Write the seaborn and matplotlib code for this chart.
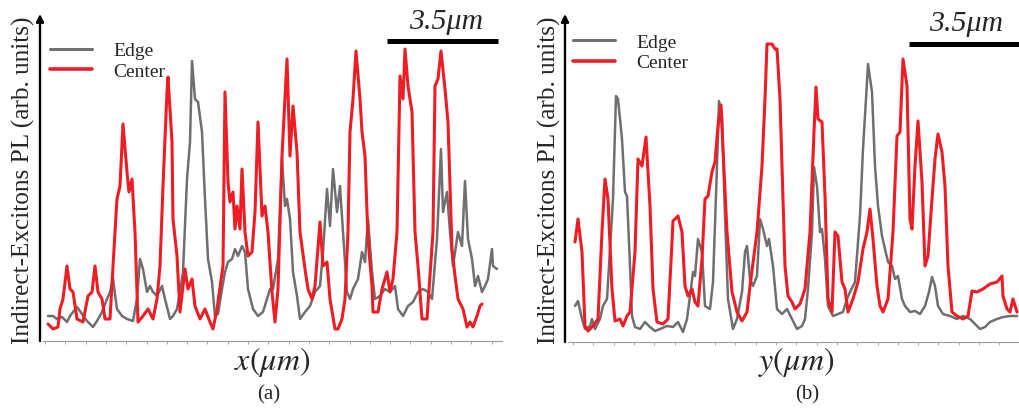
import numpy as np
import pandas as pd
import matplotlib
matplotlib.use("Agg")
import matplotlib.pyplot as plt
import seaborn as sns

# ---------------- data (profile position in camera pixels, PL in counts) -------------
# panel (a): profile along x
edge_a_pos = [8, 13, 17, 22, 27, 30, 33, 37, 42, 47, 53, 57, 62, 67, 70, 73, 77, 82, 87, 93,
              97, 100, 103, 107, 110, 113, 117, 122, 125, 130, 133, 137, 140, 143, 147, 150, 152, 155, 158, 162,
              165, 168, 172, 175, 178, 182, 185, 188, 192, 195, 198, 202, 205, 208, 213, 218, 223, 227, 230, 233,
              238, 242, 245, 247, 250, 253, 257, 260, 265, 270, 275, 280, 283, 287, 290, 293, 297, 300, 303, 307,
              310, 313, 318, 322, 325, 328, 332, 335, 340, 345, 350, 355, 358, 363, 368, 373, 378, 383, 388, 392,
              397, 401, 403, 407, 410, 413, 418, 422, 425, 428, 432, 435, 438, 442, 445, 448, 452, 453, 457]
edge_a_pl = [25, 25, 22, 24, 19, 25, 29, 34, 27, 20, 14, 20, 29, 42, 49, 62, 32, 25, 22, 20,
             42, 82, 72, 49, 55, 49, 45, 55, 42, 22, 25, 32, 49, 69, 162, 199, 280, 242, 239, 209,
             142, 82, 59, 25, 27, 52, 69, 79, 82, 92, 85, 95, 89, 52, 32, 25, 29, 42, 52, 52,
             82, 182, 135, 142, 122, 69, 45, 22, 29, 35, 49, 55, 89, 152, 115, 172, 129, 155, 109, 49,
             42, 52, 62, 89, 79, 122, 69, 42, 45, 52, 49, 55, 32, 25, 35, 39, 49, 52, 49, 42,
             102, 192, 129, 149, 109, 75, 109, 95, 160, 102, 82, 55, 65, 49, 55, 62, 92, 75, 72]

center_a_pos = [8, 13, 18, 20, 23, 27, 30, 33, 37, 43, 48, 52, 55, 58, 62, 65, 70, 75, 77, 80,
                83, 87, 89, 92, 95, 98, 103, 108, 113, 117, 120, 123, 127, 128, 132, 133, 137, 140, 145, 148,
                152, 155, 160, 165, 170, 173, 177, 183, 185, 188, 190, 193, 195, 197, 200, 202, 205, 208, 212, 215,
                218, 222, 225, 228, 232, 235, 238, 242, 247, 250, 253, 257, 260, 265, 268, 272, 275, 280, 283, 287,
                290, 295, 298, 302, 305, 308, 310, 313, 316, 320, 322, 325, 328, 332, 333, 338, 342, 347, 350, 353,
                357, 360, 363, 365, 368, 372, 375, 378, 382, 387, 393, 395, 398, 401, 405, 408, 412, 415, 418, 423,
                427, 430, 433, 437, 440, 442]
center_a_pl = [17, 12, 14, 32, 42, 75, 52, 49, 22, 19, 45, 49, 75, 49, 42, 22, 22, 109, 142, 155,
               217, 169, 149, 162, 109, 19, 25, 32, 22, 42, 75, 155, 249, 264, 199, 122, 85, 29, 72, 52,
               62, 35, 22, 32, 19, 12, 32, 75, 249, 159, 139, 149, 112, 135, 112, 172, 109, 85, 89, 129,
               219, 125, 135, 109, 49, 19, 52, 185, 282, 185, 235, 189, 109, 72, 52, 42, 55, 119, 75, 79,
               42, 12, 12, 22, 42, 109, 209, 242, 290, 242, 209, 185, 102, 55, 29, 29, 52, 69, 49, 62,
               109, 265, 242, 292, 255, 229, 109, 75, 22, 22, 109, 255, 262, 290, 252, 219, 92, 65, 42, 32,
               14, 19, 14, 25, 35, 37]

# panel (b): profile along y
edge_b_pos = [10, 13, 17, 20, 25, 27, 30, 35, 38, 42, 45, 48, 51, 53, 57, 60, 62, 65, 67, 70,
              75, 80, 85, 90, 95, 102, 108, 113, 118, 122, 125, 128, 130, 133, 137, 140, 145, 148, 152, 154,
              157, 160, 163, 168, 172, 177, 180, 182, 185, 188, 192, 195, 198, 202, 204, 208, 212, 217, 222, 227,
              232, 237, 240, 243, 247, 249, 252, 255, 257, 260, 263, 268, 273, 278, 282, 285, 290, 295, 298, 301,
              303, 307, 310, 313, 317, 320, 323, 327, 330, 333, 337, 340, 345, 350, 355, 360, 364, 367, 370, 373,
              378, 385, 392, 398, 405, 410, 415, 420, 425, 432, 438, 445, 452]
edge_b_pl = [36, 41, 23, 13, 16, 23, 13, 23, 36, 43, 93, 143, 246, 243, 203, 150, 146, 76, 26, 15,
             13, 20, 15, 11, 13, 16, 15, 20, 10, 23, 46, 70, 66, 103, 90, 36, 33, 60, 176, 241,
             226, 126, 43, 13, 23, 50, 90, 96, 63, 56, 66, 123, 113, 96, 103, 76, 33, 28, 33, 23,
             13, 16, 23, 53, 110, 175, 156, 110, 113, 83, 36, 26, 28, 30, 43, 50, 60, 126, 193, 243,
             278, 250, 176, 136, 106, 93, 80, 76, 63, 66, 43, 36, 30, 31, 28, 36, 50, 65, 56, 36,
             28, 26, 23, 26, 23, 18, 13, 15, 20, 23, 25, 26, 26]

center_b_pos = [10, 13, 17, 20, 23, 28, 33, 37, 40, 43, 47, 50, 55, 58, 62, 65, 70, 73, 77, 81,
                85, 88, 92, 98, 103, 107, 108, 113, 117, 120, 123, 127, 130, 133, 137, 140, 143, 147, 150, 153,
                156, 158, 162, 167, 172, 177, 182, 185, 192, 197, 200, 202, 207, 210, 212, 215, 217, 220, 223, 227,
                230, 235, 240, 245, 249, 251, 253, 257, 260, 263, 267, 270, 273, 277, 280, 283, 288, 293, 298, 302,
                305, 308, 312, 315, 318, 323, 328, 332, 335, 338, 342, 345, 347, 350, 353, 357, 360, 363, 367, 370,
                373, 377, 380, 383, 387, 392, 398, 403, 407, 412, 418, 425, 432, 437, 438, 442, 445, 448, 452]
center_b_pl = [100, 123, 90, 16, 11, 16, 23, 110, 163, 143, 53, 21, 23, 16, 26, 30, 90, 183, 176, 205,
               136, 53, 20, 18, 23, 100, 121, 126, 110, 56, 46, 53, 40, 36, 83, 143, 146, 170, 180, 216,
               237, 193, 110, 50, 30, 21, 30, 56, 110, 176, 243, 298, 298, 293, 293, 243, 176, 76, 46, 40,
               33, 38, 53, 110, 210, 255, 223, 220, 146, 43, 30, 110, 106, 60, 53, 30, 43, 60, 93, 110,
               133, 103, 56, 36, 30, 43, 110, 206, 210, 283, 256, 123, 113, 176, 221, 160, 76, 86, 143, 183,
               208, 190, 156, 76, 30, 26, 23, 26, 51, 50, 53, 58, 60, 66, 46, 33, 30, 43, 30]

series_names = ["Edge", "Center"]
panel_tags = ["(a)", "(b)"]
axis_names = [r"$x(\mu m)$", r"$y(\mu m)$"]
scale_text = "3.5\u03bcm"
ylabel_text = "Indirect-Excitons PL (arb. units)"
scale_bar_px = 111  # 3.5 um on the camera

colors = {"Edge": "#6f6f6f", "Center": "#ee1d23"}
widths = {"Edge": 1.8, "Center": 2.2}

# ---------------- style ----------------
sns.set_theme(style="white")
plt.rcParams["font.family"] = ["Liberation Serif", "DejaVu Serif"]
plt.rcParams["mathtext.fontset"] = "stix"

W, H = 1019, 410
fig = plt.figure(figsize=(W / 100, H / 100), dpi=100)


def px_box(left, top, right, bottom):
    return [left / W, (H - bottom) / H, (right - left) / W, (bottom - top) / H]


panels = [
    dict(box=px_box(40, 15, 502, 342), pos_e=edge_a_pos, pl_e=edge_a_pl,
         pos_c=center_a_pos, pl_c=center_a_pl, xlim=462, ylim=327,
         bar_x0=347, bar_y=300, txt_x=406, txt_y=307,
         leg=(0.021, 0.915), ylab_x=23, xlab=(272, 362), tag=(269, 395), tick0=5),
    dict(box=px_box(565, 15, 1019, 343), pos_e=edge_b_pos, pl_e=edge_b_pl,
         pos_c=center_b_pos, pl_c=center_b_pl, xlim=454, ylim=328,
         bar_x0=344, bar_y=298, txt_x=401, txt_y=306,
         leg=(0.017, 0.941), ylab_x=549, xlab=(796, 362), tag=(807, 395), tick0=8),
]

for i, p in enumerate(panels):
    ax = fig.add_axes(p["box"])
    df = pd.concat([
        pd.DataFrame({"position": p["pos_e"], "PL": p["pl_e"], "profile": "Edge"}),
        pd.DataFrame({"position": p["pos_c"], "PL": p["pl_c"], "profile": "Center"}),
    ], ignore_index=True)
    sns.lineplot(data=df, x="position", y="PL", hue="profile", hue_order=series_names,
                 palette=colors, sort=False, estimator=None, linewidth=2.2, ax=ax,
                 legend=False)
    ax.lines[0].set_linewidth(widths["Edge"])
    ax.set_xlim(0, p["xlim"])
    ax.set_ylim(0, p["ylim"])
    ax.set_xlabel("")
    ax.set_ylabel("")

    # axes appearance
    for s in ["top", "right", "left"]:
        ax.spines[s].set_visible(False)
    ax.spines["bottom"].set_color("#9a9a9a")
    ax.spines["bottom"].set_linewidth(0.8)
    ax.spines["bottom"].set_bounds(3, p["xlim"])
    ax.set_xticks(np.arange(p["tick0"], p["xlim"], 20.3))
    ax.set_yticks([])
    ax.tick_params(axis="x", direction="out", length=2.5, width=0.6, color="#9a9a9a",
                   labelbottom=False, bottom=True)
    ax.annotate("", xy=(0, 1.0), xytext=(0, 0), xycoords="axes fraction",
                arrowprops=dict(arrowstyle="-|>", lw=1.7, color="black",
                                mutation_scale=11, shrinkA=0, shrinkB=0))

    # legend
    handles = [plt.Line2D([], [], color=colors[n], lw=widths[n] + 0.4) for n in series_names]
    ax.legend(handles, series_names, loc="upper left", bbox_to_anchor=p["leg"],
              frameon=False, fontsize=14, handlelength=2.2, handletextpad=1.05,
              labelspacing=0.15, borderpad=0, borderaxespad=0)

    # scale bar
    ax.plot([p["bar_x0"], p["bar_x0"] + scale_bar_px], [p["bar_y"], p["bar_y"]],
            color="black", lw=3.6, solid_capstyle="butt", clip_on=False)
    ax.text(p["txt_x"], p["txt_y"], scale_text, ha="center", va="bottom",
            fontsize=21.5, style="italic", clip_on=False)

    # labels
    fig.text(p["ylab_x"] / W, 1 - 180 / H, ylabel_text, rotation=90,
             ha="center", va="center", fontsize=18.2)
    fig.text(p["xlab"][0] / W, 1 - p["xlab"][1] / H, axis_names[i],
             ha="center", va="center", fontsize=23)
    fig.text(p["tag"][0] / W, 1 - p["tag"][1] / H, panel_tags[i],
             ha="center", va="center", fontsize=15)

fig.savefig("out.png", dpi=100)
